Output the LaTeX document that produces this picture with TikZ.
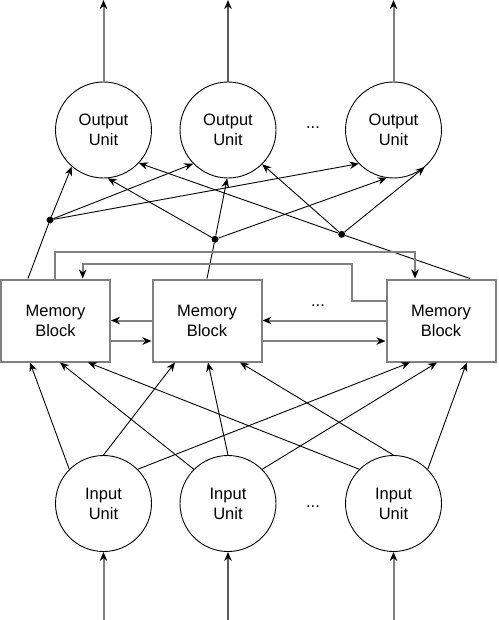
\documentclass[tikz,border=0pt]{standalone}
\usepackage{fontspec}
\setmainfont{Liberation Sans}
\usetikzlibrary{arrows.meta,calc}
\begin{document}
\begin{tikzpicture}[x=1pt,y=-1pt,
  unit/.style={circle,draw=black,line width=0.9pt,minimum size=96pt,inner sep=0pt,align=center,font=\fontsize{16.5}{20}\selectfont},
  block/.style={rectangle,draw=black!50,line width=2pt,minimum width=109pt,minimum height=82pt,inner sep=0pt,align=center,font=\fontsize{16.5}{20}\selectfont},
  jdot/.style={circle,fill=black,minimum size=7pt,inner sep=0pt},
  tip/.style={-{Stealth[length=9pt,width=7.5pt,color=black]}},
  thin/.style={draw=black,line width=0.9pt},
  thick/.style={draw=black!50,line width=2pt},
  dots/.style={font=\fontsize{16.5}{20}\selectfont}]
\useasboundingbox (0,0) rectangle (498,620);

% output units
\node[unit] (o1) at (103.5,130) {Output\\Unit};
\node[unit] (o2) at (228,130) {Output\\Unit};
\node[unit] (o3) at (393.5,130) {Output\\Unit};
\node[dots] (od) at (313,128) {...};

% memory blocks
\node[block] (m1) at (55.5,320.5) {Memory\\Block};
\node[block] (m2) at (207,320.5) {Memory\\Block};
\node[block] (m3) at (441,320.5) {Memory\\Block};
\node[dots] (md) at (318,306) {...};

% input units
\node[unit] (i1) at (103.5,503.5) {Input\\Unit};
\node[unit] (i2) at (228,503.5) {Input\\Unit};
\node[unit] (i3) at (393.5,503.5) {Input\\Unit};
\node[dots] (id) at (313,507) {...};

% junction dots
\node[jdot] (d1) at (50,220) {};
\node[jdot] (d2) at (215,239.3) {};
\node[jdot] (d3) at (341.7,234.3) {};

% outputs to top
\draw[thick,tip] (o1.north) -- (o1.north |- 0,0);
\draw[thick,line width=1.3pt,draw=black!65,tip] (o2.north) -- (o2.north |- 0,0);
\draw[thick,tip] (o3.north) -- (o3.north |- 0,0);

% inputs from bottom
\draw[thick,tip] (i1.south |- 0,620) -- (i1.south);
\draw[thick,line width=1.3pt,draw=black!65,tip] (i2.south |- 0,620) -- (i2.south);
\draw[thick,tip] (i3.south |- 0,620) -- (i3.south);

% blocks to junctions
\draw[thin] (28,0 |- m1.north) -- (d1);
\draw[thin] (207,0 |- m2.north) -- (d2);
\draw[thin] (470,0 |- m3.north) -- (d3);

% junctions to outputs
\draw[thin,tip] (d1) -- (o1.229);
\draw[thin,tip] (d1) -- (o2.224);
\draw[thin,tip] (d1) -- (o3.224);
\draw[thin,tip] (d2) -- (o1.275);
\draw[thin,tip] (d2) -- (o2.269);
\draw[thin,tip] (d2) -- (o3.262);
\draw[thin,tip] (d3) -- (o1.317);
\draw[thin,tip] (d3) -- (o2.315);
\draw[thin,tip] (d3) -- (o3.310);

% horizontal block links
\draw[thick,tip] (m2.west) -- (m1.east);
\draw[thick,tip] ([yshift=-20.5pt]m1.east) -- ([yshift=-20.5pt]m2.west);
\draw[thick,tip] (m3.west) -- (m2.east);
\draw[thick,tip] ([yshift=-20.5pt]m2.east) -- ([yshift=-20.5pt]m3.west);

% feedback links
\draw[thick,tip] (55,0 |- m1.north) -- (55,251.7) -| (415,0 |- m3.north);
\draw[thick,tip] (m3.west |- 0,300.7) -- (351.7,300.7) -- (351.7,264) -| (82.7,0 |- m1.north);

% inputs to blocks
\draw[thin,tip] (i1.135) -- (30,0 |- m1.south);
\draw[thin,tip] (i1.90) -- (175,0 |- m2.south);
\draw[thin,tip] (i1.45) -- (410,0 |- m3.south);
\draw[thin,tip] (i2.135) -- (60,0 |- m1.south);
\draw[thin,tip] (i2.90) -- (208,0 |- m2.south);
\draw[thin,tip] (i2.45) -- (437,0 |- m3.south);
\draw[thin,tip] (i3.135) -- (88,0 |- m1.south);
\draw[thin,tip] (i3.90) -- (240,0 |- m2.south);
\draw[thin,tip] (i3.45) -- (466.7,0 |- m3.south);
\end{tikzpicture}
\end{document}
